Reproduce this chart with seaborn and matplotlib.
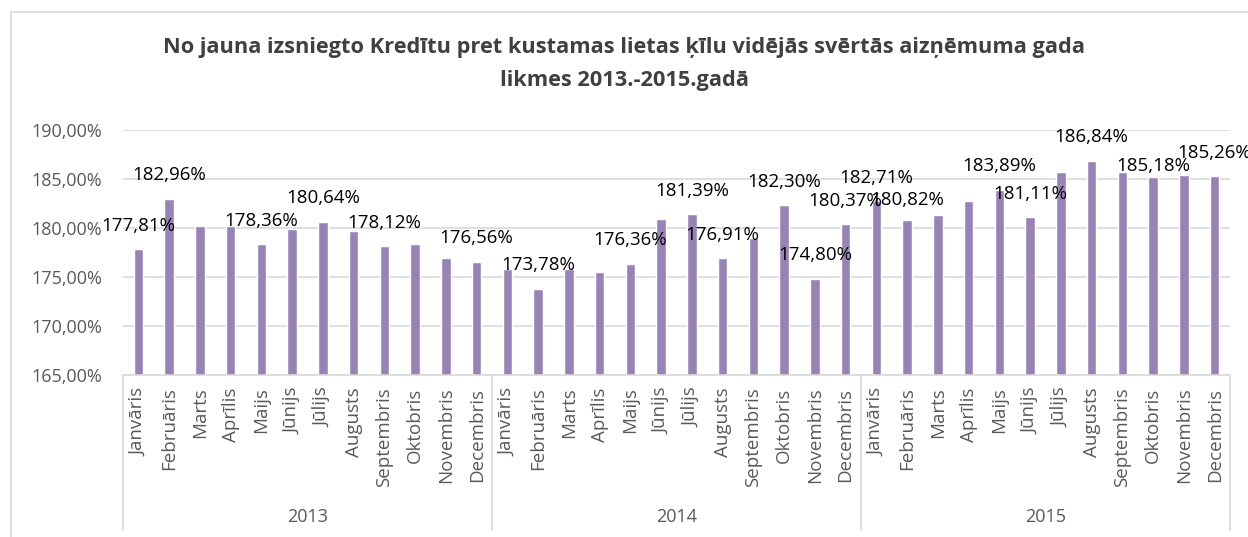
import matplotlib
matplotlib.use("Agg")
import matplotlib.pyplot as plt
import matplotlib.transforms as mtransforms
from matplotlib.patches import Rectangle
import seaborn as sns
import pandas as pd

# data
years = ["2013", "2014", "2015"]
months = ["Janvāris", "Februāris", "Marts", "Aprīlis", "Maijs", "Jūnijs",
          "Jūlijs", "Augusts", "Septembris", "Oktobris", "Novembris", "Decembris"]
rates_2013 = [177.81, 182.96, 180.17, 180.24, 178.36, 179.94,
              180.64, 179.69, 178.12, 178.37, 176.97, 176.56]
rates_2014 = [175.82, 173.78, 175.82, 175.48, 176.36, 180.92,
              181.39, 176.91, 179.01, 182.30, 174.80, 180.37]
rates_2015 = [182.71, 180.82, 181.33, 182.76, 183.89, 181.11,
              185.68, 186.84, 185.68, 185.18, 185.38, 185.26]
# month indexes that carry a data label in the original
labelled_2013 = [0, 1, 4, 6, 8, 11]
labelled_2014 = [1, 4, 6, 7, 9, 10, 11]
labelled_2015 = [0, 1, 4, 5, 7, 9, 11]

title_1 = "No jauna izsniegto Kredītu pret kustamas lietas ķīlu vidējās svērtās aizņēmuma gada"
title_2 = "likmes 2013.-2015.gadā"

rows = []
for yr, vals, lab in zip(years, [rates_2013, rates_2014, rates_2015],
                         [labelled_2013, labelled_2014, labelled_2015]):
    for m, (name, v) in enumerate(zip(months, vals)):
        rows.append({"key": f"{yr}-{name}", "year": yr, "month": name,
                     "rate": v, "label": m in lab})
df = pd.DataFrame(rows)

sns.set_style("white")
plt.rcParams['font.family'] = ['Open Sans', 'DejaVu Sans']

BAR = "#9883b5"
GRID = "#d9d9d9"
TXT = "#595959"

W, H = 1248, 537
fig = plt.figure(figsize=(W / 100, H / 100), dpi=100)
ax = fig.add_axes([123 / W, 1 - 375 / H, (1230 - 123) / W, 245 / H])

sns.barplot(data=df, x="key", y="rate", color=BAR, saturation=1,
            width=0.31, ax=ax)

ax.set_ylim(165, 190)
ax.set_xlim(-0.5, len(df) - 0.5)
ax.set_yticks(range(165, 191, 5))
ax.set_yticklabels([f"{t:.2f}%".replace(".", ",") for t in range(165, 191, 5)],
                   fontsize=13, color=TXT)
ax.set_xticks(range(len(df)))
ax.set_xticklabels(df["month"], rotation=90, fontsize=13.5, color=TXT)
ax.tick_params(axis="both", length=0)
ax.tick_params(axis="x", pad=9)
ax.tick_params(axis="y", pad=15)
ax.set_xlabel("")
ax.set_ylabel("")
ax.yaxis.grid(True, color=GRID, lw=1.2)
ax.set_axisbelow(True)
for s in ["top", "right", "left"]:
    ax.spines[s].set_visible(False)
ax.spines["bottom"].set_color(GRID)
ax.spines["bottom"].set_linewidth(1.2)

# data labels (two of them sit a little lower in the original)
lower = {"2015-Oktobris": 1.1, "2015-Februāris": 2.0}
for i, r in df.iterrows():
    if r["label"]:
        off = lower.get(r["key"], 2.4)
        ax.text(i, r["rate"] + off, f"{r['rate']:.2f}%".replace(".", ","),
                ha="center", va="center", fontsize=13.5, color="#000000")

# year level of the category axis
trans = mtransforms.blended_transform_factory(ax.transData, ax.transAxes)
for k, yr in enumerate(years):
    ax.text(k * 12 + 5.5, -0.58, yr, transform=trans, ha="center",
            va="center", fontsize=13, color=TXT)
for xb in [-0.5, 11.5, 23.5, 35.5]:
    ax.plot([xb, xb], [0, -0.633], transform=trans, color=GRID, lw=1.2,
            clip_on=False)

# title
fig.text(0.5, 1 - 47 / H, title_1, ha="center", va="center", fontsize=15.7,
         fontweight="bold", color="#404040")
fig.text(0.5, 1 - 80 / H, title_2, ha="center", va="center", fontsize=15.7,
         fontweight="bold", color="#404040")

# chart border
fig.patches.append(Rectangle((11 / W, -0.1), 1.2, (H - 12) / H + 0.1,
                             transform=fig.transFigure, fill=False,
                             ec=GRID, lw=1.2))

fig.savefig("out.png", dpi=100)
